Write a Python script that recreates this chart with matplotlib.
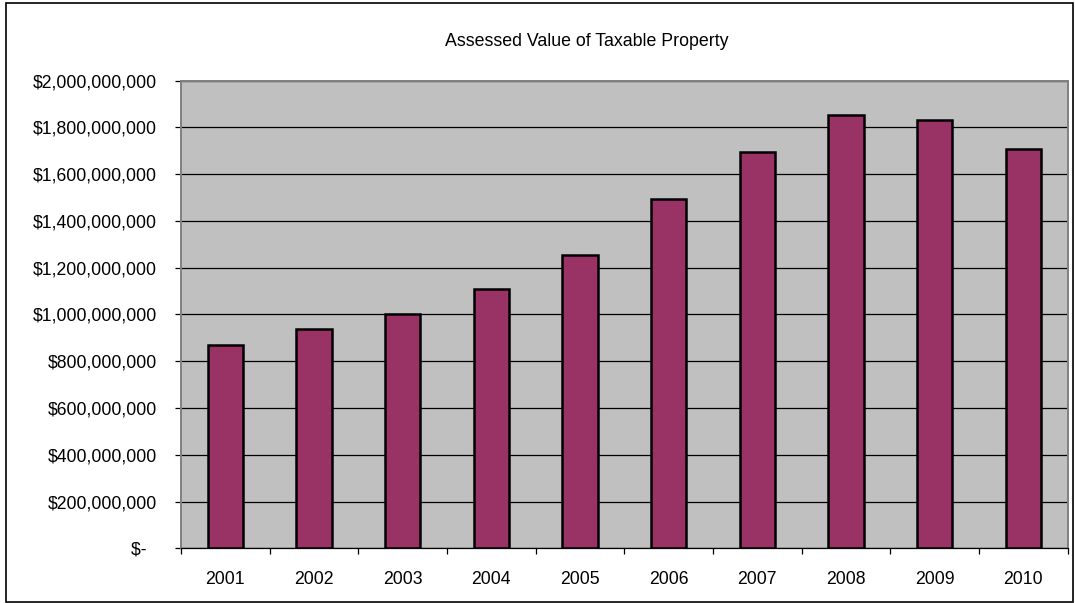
import numpy as np
import matplotlib
matplotlib.use('Agg')
import matplotlib.pyplot as plt
from matplotlib.ticker import FuncFormatter, MultipleLocator
from matplotlib.patches import Rectangle

# Data
years = ['2001', '2002', '2003', '2004', '2005', '2006', '2007', '2008', '2009', '2010']
values = [870e6, 940e6, 1002e6, 1108e6, 1256e6, 1496e6, 1693e6, 1854e6, 1832e6, 1706e6]
title = 'Assessed Value of Taxable Property'


def money(v, pos):
    if v == 0:
        return '$-  '
    return '${:,.0f}'.format(v)


def main():
    plt.rcParams['font.family'] = ['Liberation Sans', 'DejaVu Sans']

    fig = plt.figure(figsize=(10.75, 6.03), dpi=100)
    ax = fig.add_axes([0.1684, 0.0907, 0.8248, 0.7755])

    x = np.arange(len(years))
    ax.bar(x, values, width=0.4, color='#993366', edgecolor='black',
           linewidth=1.8, zorder=3)

    ax.set_facecolor('#C0C0C0')
    ax.set_xlim(-0.5, len(years) - 0.5)
    ax.set_ylim(0, 2e9)

    ax.yaxis.set_major_locator(MultipleLocator(2e8))
    ax.yaxis.set_major_formatter(FuncFormatter(money))
    ax.grid(axis='y', color='black', linewidth=0.9, zorder=1)

    ax.set_xticks(x)
    ax.set_xticklabels(years)
    ax.set_xticks(np.arange(-0.5, len(years)), minor=True)
    ax.tick_params(axis='x', which='major', length=0, pad=16, labelsize=12.7)
    ax.tick_params(axis='x', which='minor', length=4.5, width=0.9, direction='out')
    ax.tick_params(axis='y', length=4.5, width=0.9, pad=13, labelsize=12.7)

    for side in ['left', 'top', 'right']:
        ax.spines[side].set_color('#808080')
        ax.spines[side].set_linewidth(1.4)
    ax.spines['bottom'].set_color('black')
    ax.spines['bottom'].set_linewidth(0.9)

    fig.text(0.546, 0.932, title, ha='center', va='center', fontsize=12.8)

    # Outer chart border
    fig.patches.append(Rectangle((6 / 1075, 1 / 603), 1067 / 1075, 599 / 603,
                                 transform=fig.transFigure, fill=False,
                                 edgecolor='black', linewidth=1.2))

    fig.savefig('out.png', dpi=100)


if __name__ == "__main__":
    main()
